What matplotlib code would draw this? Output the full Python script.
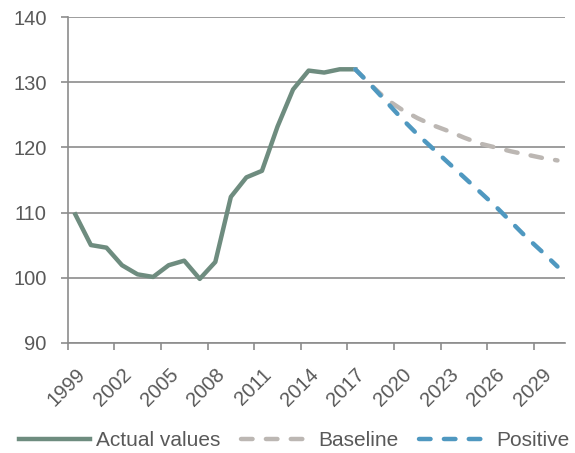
import numpy as np
import matplotlib
matplotlib.use('Agg')
import matplotlib.pyplot as plt
import matplotlib.transforms as mtransforms
from matplotlib.ticker import FixedLocator

plt.rcParams['font.family'] = ['Liberation Sans', 'DejaVu Sans']

# data
actual_years = list(range(1999, 2018))
actual_values = [109.7, 105.0, 104.6, 101.9, 100.5, 100.1, 101.9, 102.6, 99.8,
                 102.4, 112.4, 115.4, 116.4, 123.2, 128.9, 131.8, 131.5, 132.0, 132.0]

proj_years = list(range(2017, 2031))
baseline_values = [132.0, 129.6, 127.4, 125.8, 124.5, 123.4, 122.5, 121.5,
                   120.6, 120.0, 119.4, 118.9, 118.4, 118.0]
positive_values = [132.0, 129.6, 127.0, 124.4, 122.0, 119.8, 117.6, 115.4,
                   113.2, 111.0, 108.6, 106.2, 104.0, 101.7]

tick_years = list(range(1999, 2030, 3))

green = '#6e8c7f'
grey = '#bcb7b3'
blue = '#4f98c0'
axis_col = '#8c8c8c'
text_col = '#595959'
fs = 14.5

fig = plt.figure(figsize=(5.75, 4.53), dpi=100)
ax = fig.add_axes([0.1175, 0.2435, 0.8655, 0.7185])

ax.plot(actual_years, actual_values, color=green, lw=3.2, solid_joinstyle='round',
        label='Actual values', zorder=3)
ax.plot(proj_years, baseline_values, color=grey, lw=3.2, dashes=(2.6, 3.0),
        dash_capstyle='round', label='Baseline', zorder=3)
ax.plot(proj_years, positive_values, color=blue, lw=3.2, dashes=(2.6, 3.0),
        dash_capstyle='round', label='Positive', zorder=4)

ax.set_xlim(1998.5, 2030.5)
ax.set_ylim(90, 140)
ax.set_yticks(np.arange(90, 141, 10))
ax.yaxis.grid(True, color=axis_col, lw=1.2)
ax.set_axisbelow(True)

ax.set_xticks(tick_years)
ax.set_xticklabels([str(y) for y in tick_years], rotation=45, ha='right',
                   rotation_mode='anchor')
shift = mtransforms.ScaledTranslation(-0.03, 0, fig.dpi_scale_trans)
for lbl in ax.get_xticklabels():
    lbl.set_transform(lbl.get_transform() + shift)
ax.xaxis.set_minor_locator(FixedLocator(np.arange(1998.5, 2031, 3)))
ax.tick_params(axis='x', which='major', length=0, pad=16)
ax.tick_params(axis='x', which='minor', length=5, width=1.2, color=axis_col)
ax.tick_params(axis='y', length=5, width=1.2, color=axis_col, pad=10)
ax.tick_params(labelsize=fs, labelcolor=text_col)

for s in ['top', 'right']:
    ax.spines[s].set_visible(False)
for s in ['left', 'bottom']:
    ax.spines[s].set_color(axis_col)
    ax.spines[s].set_linewidth(1.2)

leg = fig.legend(loc='lower center', bbox_to_anchor=(0.512, -0.035), ncol=3,
                 frameon=False, fontsize=15, handlelength=3.4, handletextpad=0.3,
                 columnspacing=1.0)
for t in leg.get_texts():
    t.set_color(text_col)

fig.savefig('out.png', dpi=100)
